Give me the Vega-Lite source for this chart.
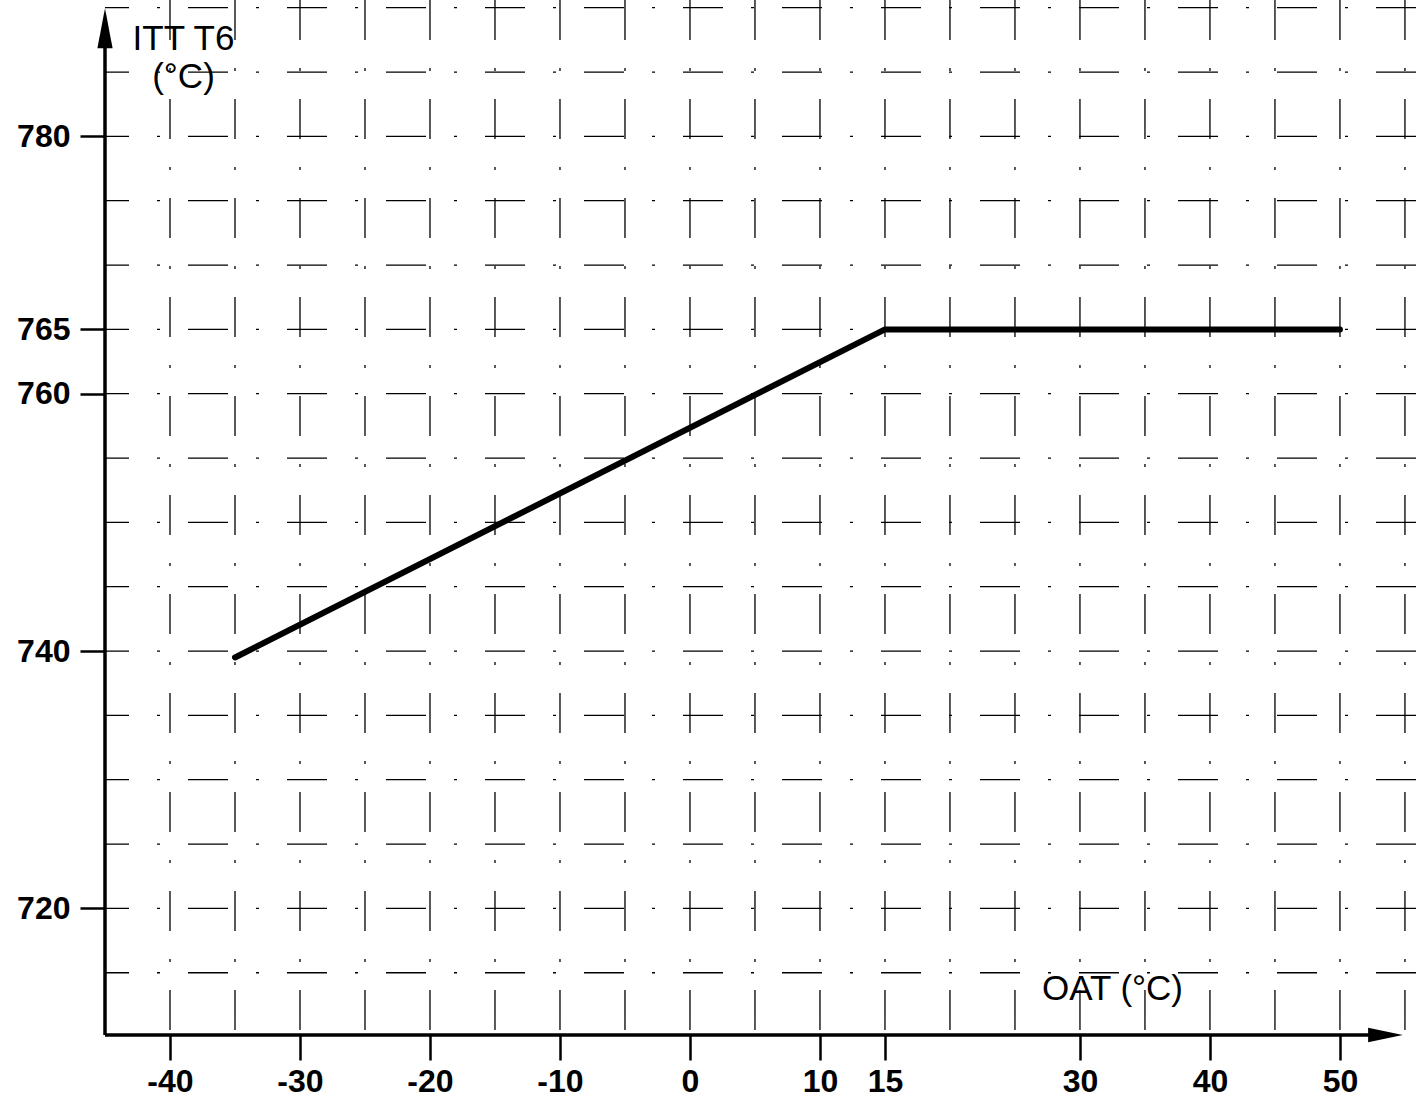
{
  "$schema": "https://vega.github.io/schema/vega-lite/v6.json",
  "autosize": "none",
  "width": 1311,
  "height": 1035,
  "padding": {"left": 105, "top": 0, "right": 0, "bottom": 70},
  "background": "white",
  "config": {"view": {"stroke": null}, "font": "Liberation Sans"},
  "datasets": {
    "curve": [
      {"oat": -35, "itt": 739.5},
      {"oat": 15, "itt": 765},
      {"oat": 50, "itt": 765}
    ],
    "vgrid": [
      {"oat": -40}, {"oat": -35}, {"oat": -30}, {"oat": -25}, {"oat": -20}, {"oat": -15}, {"oat": -10}, {"oat": -5}, {"oat": 0}, {"oat": 5}, {"oat": 10}, {"oat": 15}, {"oat": 20}, {"oat": 25}, {"oat": 30}, {"oat": 35}, {"oat": 40}, {"oat": 45}, {"oat": 50}, {"oat": 55}
    ],
    "hgrid": [
      {"itt": 715}, {"itt": 720}, {"itt": 725}, {"itt": 730}, {"itt": 735}, {"itt": 740}, {"itt": 745}, {"itt": 750}, {"itt": 755}, {"itt": 760}, {"itt": 765}, {"itt": 770}, {"itt": 775}, {"itt": 780}, {"itt": 785}, {"itt": 790}
    ],
    "xaxisline": [{"x1": -45, "x2": 52.5, "y": 710.16}],
    "yaxisline": [{"x": -45, "y1": 710.16, "y2": 787.5}],
    "xarrow": [{"oat": 53.5, "itt": 710.16}],
    "yarrow": [{"oat": -45, "itt": 788.4}]
  },
  "layer": [
    {
      "data": {"name": "vgrid"},
      "mark": {"type": "rule", "color": "black", "strokeWidth": 1.3, "strokeDash": [40, 28, 3, 28]},
      "encoding": {
        "x": {"field": "oat", "type": "quantitative", "scale": {"domain": [-45, 55.85], "nice": false, "zero": false},
          "axis": {
            "values": [-40, -30, -20, -10, 0, 10, 15, 30, 40, 50],
            "labelExpr": "'' + datum.value",
            "domain": false, "grid": false,
            "tickSize": 25, "tickWidth": 2.5, "tickColor": "black",
            "labelFontSize": 32, "labelFontWeight": "bold", "labelColor": "black", "labelPadding": 6, "labelFont": "Liberation Sans",
            "title": "OAT (°C)", "titleFontSize": 35, "titleFontWeight": "normal", "titleColor": "black",
            "titleFont": "Liberation Sans",
            "titleX": 1007, "titleY": -47, "titleAlign": "center", "titleBaseline": "middle", "titleAngle": 0
          }
        }
      }
    },
    {
      "data": {"name": "hgrid"},
      "mark": {"type": "rule", "color": "black", "strokeWidth": 1.3, "strokeDash": [40, 28, 3, 28]},
      "encoding": {
        "y": {"field": "itt", "type": "quantitative", "scale": {"domain": [710.16, 790.6], "nice": false, "zero": false},
          "axis": {
            "values": [720, 740, 760, 765, 780],
            "domain": false, "grid": false,
            "tickSize": 25, "tickWidth": 2.5, "tickColor": "black",
            "labelFontSize": 32, "labelFontWeight": "bold", "labelColor": "black", "labelPadding": 10, "labelFont": "Liberation Sans",
            "title": ["ITT T6", "(°C)"], "titleFontSize": 35, "titleFontWeight": "normal", "titleColor": "black",
            "titleFont": "Liberation Sans", "titleLineHeight": 38,
            "titleX": 78, "titleY": 38, "titleAlign": "center", "titleBaseline": "middle", "titleAngle": 0
          }
        }
      }
    },
    {
      "data": {"name": "xaxisline"},
      "mark": {"type": "rule", "color": "black", "strokeWidth": 3.5},
      "encoding": {
        "x": {"field": "x1", "type": "quantitative"},
        "x2": {"field": "x2"},
        "y": {"field": "y", "type": "quantitative"}
      }
    },
    {
      "data": {"name": "yaxisline"},
      "mark": {"type": "rule", "color": "black", "strokeWidth": 3.5},
      "encoding": {
        "x": {"field": "x", "type": "quantitative"},
        "y": {"field": "y1", "type": "quantitative"},
        "y2": {"field": "y2"}
      }
    },
    {
      "data": {"name": "xarrow"},
      "mark": {"type": "point", "filled": true, "color": "black", "opacity": 1, "size": 1200, "shape": "M1,0L-1,-0.42L-1,0.42Z"},
      "encoding": {
        "x": {"field": "oat", "type": "quantitative"},
        "y": {"field": "itt", "type": "quantitative"}
      }
    },
    {
      "data": {"name": "yarrow"},
      "mark": {"type": "point", "filled": true, "color": "black", "opacity": 1, "size": 1600, "shape": "M0,-1L0.38,1L-0.38,1Z"},
      "encoding": {
        "x": {"field": "oat", "type": "quantitative"},
        "y": {"field": "itt", "type": "quantitative"}
      }
    },
    {
      "data": {"name": "curve"},
      "mark": {"type": "line", "color": "black", "strokeWidth": 6, "strokeCap": "round", "strokeJoin": "round"},
      "encoding": {
        "x": {"field": "oat", "type": "quantitative"},
        "y": {"field": "itt", "type": "quantitative"}
      }
    }
  ]
}
